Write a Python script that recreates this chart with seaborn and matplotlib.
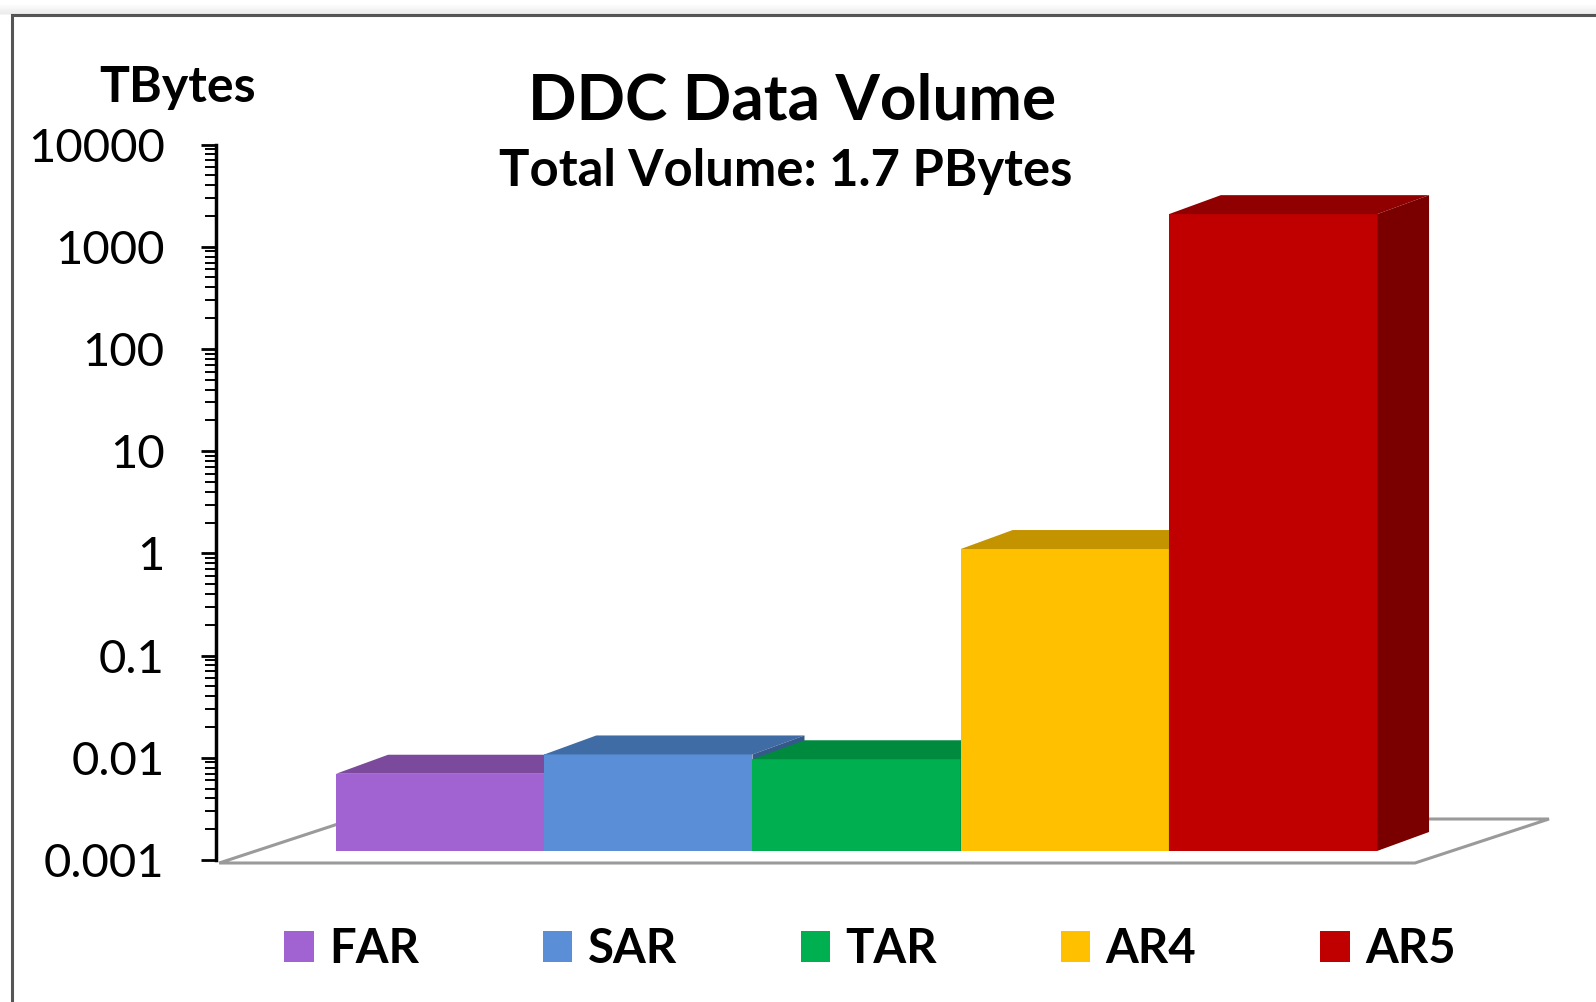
import numpy as np
import pandas as pd
import seaborn as sns
import matplotlib.pyplot as plt
from matplotlib.patches import Polygon, Rectangle
from matplotlib.lines import Line2D
from matplotlib.transforms import IdentityTransform
from matplotlib.ticker import LogLocator, NullFormatter

# data (TBytes, log scale)
categories = ["FAR", "SAR", "TAR", "AR4", "AR5"]
volumes_tb = [0.0057, 0.0088, 0.0079, 0.9, 1700]
front_colors = ["#A162D2", "#5A8ED6", "#00B050", "#FFC000", "#C00000"]
top_colors = ["#7B4A9C", "#3F6CA5", "#008A3E", "#C49300", "#900000"]
side_colors = ["#6A3E8A", "#34598A", "#007033", "#A67C00", "#7A0000"]
tick_values = [0.001, 0.01, 0.1, 1, 10, 100, 1000, 10000]
tick_labels = ["0.001", "0.01", "0.1", "1", "10", "100", "1000", "10000"]

sns.set_style("ticks")
plt.rcParams['font.family'] = ['Lato', 'DejaVu Sans']
plt.rcParams['text.color'] = 'black'

W, H = 1596, 1002
fig = plt.figure(figsize=(W / 100, H / 100), dpi=100)
fig.patch.set_facecolor('white')


def fx(px):
    return px / W


def fy(py):
    # py measured from the top of the image
    return 1 - py / H


ax_w = fx(1549) - fx(216)
ax_h = (860 - 144.5) / H
x_lo, x_hi = -1.077, 5.326

# back wall with the value axis
wall = fig.add_axes([fx(216), fy(860), ax_w, ax_h])
# front plane of the columns (sits a little higher than the wall origin)
bars_ax = fig.add_axes([fx(216), fy(851), ax_w, ax_h])

df = pd.DataFrame({"run": categories, "volume": volumes_tb})
sns.barplot(data=df, x="run", y="volume", hue="run", palette=front_colors,
            width=1.0, saturation=1, legend=False, linewidth=0, ax=bars_ax)
bars_ax.set_yscale('log')
bars_ax.set_ylim(1e-3, 1e4)
bars_ax.set_xlim(x_lo, x_hi)
bars_ax.axis('off')
bars_ax.patch.set_alpha(0)

# wall axis styling
wall.set_yscale('log')
wall.set_ylim(1e-3, 1e4)
wall.set_xlim(x_lo, x_hi)
wall.set_facecolor('none')
for s in ['top', 'right', 'bottom']:
    wall.spines[s].set_visible(False)
wall.spines['left'].set_color('black')
wall.spines['left'].set_linewidth(2.5)
wall.set_xticks([])
wall.set_yticks(tick_values, tick_labels)
wall.yaxis.set_minor_locator(LogLocator(base=10, subs=np.arange(2, 10)))
wall.yaxis.set_minor_formatter(NullFormatter())
wall.tick_params(axis='y', which='major', left=True, direction='out', length=11,
                 width=2, labelsize=34, pad=26, color='black', labelcolor='black')
wall.tick_params(axis='y', which='minor', left=True, direction='out', length=8,
                 width=1.4, color='black')

# floor of the 3d box
floor = Polygon([(0.0024, -0.0042), (0.8995, -0.0042), (1.0, 0.0573), (0.1029, 0.0573)],
                closed=True, transform=wall.transAxes, facecolor='white',
                edgecolor='#9a9a9a', lw=2.2, clip_on=False, zorder=1)
wall.add_artist(floor)

# 3d tops and sides of the columns
dx, dy = 52, 19
ybot = bars_ax.transAxes.transform((0, 0))[1]
for i, patch in enumerate(bars_ax.patches):
    x, w, h = patch.get_x(), patch.get_width(), patch.get_height()
    px0, ptop = bars_ax.transData.transform((x, h))
    px1, _ = bars_ax.transData.transform((x + w, h))
    patch.set_zorder(3 * i + 1)
    top = Polygon([(px0, ptop), (px1, ptop), (px1 + dx, ptop + dy), (px0 + dx, ptop + dy)],
                  closed=True, transform=IdentityTransform(), facecolor=top_colors[i],
                  lw=0, zorder=3 * i + 2, clip_on=False)
    side = Polygon([(px1, ybot), (px1, ptop), (px1 + dx, ptop + dy), (px1 + dx, ybot + dy)],
                   closed=True, transform=IdentityTransform(), facecolor=side_colors[i],
                   lw=0, zorder=3 * i + 3, clip_on=False)
    bars_ax.add_artist(top)
    bars_ax.add_artist(side)

# titles
fig.text(fx(178), fy(102), "TBytes", ha='center', va='baseline', fontsize=36,
         fontweight='bold', color='black')
fig.text(fx(792), fy(120), "DDC Data Volume", ha='center', va='baseline', fontsize=46,
         fontweight='bold', color='black')
fig.text(fx(786), fy(186), "Total Volume: 1.7 PBytes", ha='center', va='baseline',
         fontsize=36.5, fontweight='bold', color='black')

# legend
handles = [Rectangle((0, 0), 1, 1, facecolor=c, lw=0) for c in front_colors]
fig.legend(handles=handles, labels=categories, ncol=5, loc='center',
           bbox_to_anchor=(fx(870), fy(949)), frameon=False, labelcolor='black',
           prop={'weight': 'bold', 'size': 34}, handlelength=0.62, handleheight=0.64,
           handletextpad=0.33, columnspacing=2.62)

# chart frame with a soft shadow on top
for k in range(10):
    fig.add_artist(Line2D([0, 1], [fy(14 - k), fy(14 - k)], transform=fig.transFigure,
                          color='black', alpha=0.05 * (10 - k) / 10, lw=1.2))
fig.add_artist(Rectangle((fx(12), -0.05), 1.2, fy(15) + 0.05, transform=fig.transFigure,
                         fill=False, edgecolor='#555555', lw=2.2))

fig.savefig("out.png", dpi=100, facecolor='white')
